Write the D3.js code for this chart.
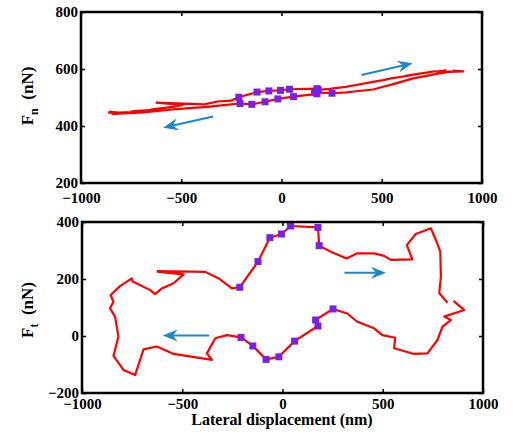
<!DOCTYPE html>
<html>
<head>
<meta charset="utf-8">
<script src="https://cdn.jsdelivr.net/npm/d3@7"></script>
<style>
  html, body { margin: 0; padding: 0; background: #fff; }
  svg { display: block; }
  text { font-family: "Liberation Serif", "Times New Roman", serif; font-weight: bold; }
</style>
</head>
<body>
<svg id="chart" width="514" height="441"></svg>
<script>
// lateral displacement (nm) along the path, null = gap in the trace
const dispX = [-627, -385, -318, -252, -213, -122, -63, -5, 40, 177, 183, 240, 320, 373, 457, 507, 540, 648, 620, 665,
  740, 765, 787, 790, 782, 823, null, 853, 907, 807, 840, 798, 773, 723, 657, 557, 562, 498, 457, 373,
  323, 252, 165, 177, 60, -18, -82, -148, -207, -277, -335, -377, -352, -543, -627, -693, -735, -793, -843, -818,
  -835, -860, -843, -857, -810, -752, -747, -660, -635, -602, -543, -493, -627];

// normal force Fn (nN)
const forceN = [482, 476, 486, 489, 501, 519, 523, 525, 529, 531, 527, 530, 537, 544, 555, 561, 566, 578, 576, 581,
  589, 592, 590, 594, 590, 596, null, 594, 592, 589, 591, 585, 583, 576, 567, 547, 548, 536, 528, 522,
  518, 515, 518, 513, 503, 495, 485, 476, 479, 474, 470, 467, 468, 458, 452, 448, 446, 444, 442, 444,
  446, 447, 449, 450, 447, 449, 451, 456, 459, 462, 467, 474, 482];

// tangential force Ft (nN)
const forceT = [228, 225, 202, 167, 171, 261, 345, 358, 386, 381, 317, 296, 272, 290, 290, 281, 267, 269, 319, 358,
  378, 337, 296, 208, 150, 117, null, 123, 91, 68, 56, 33, -14, -61, -63, -43, -6, 3, 27, 50,
  79, 95, 56, 35, -18, -73, -82, -35, -5, 3, -8, -61, -84, -63, -37, -47, -137, -119, -70, -2,
  68, 97, 120, 144, 175, 202, 191, 161, 147, 167, 185, 216, 226];

// highlighted samples (squares)
const markX  = [-213, -122, -63, -5, 40, 177, 183, 252, 165, 177, 60, -18, -82, -148, -207];
const markFn = [501, 519, 523, 525, 529, 531, 527, 515, 518, 513, 503, 495, 485, 476, 479];
const markFt = [171, 261, 345, 358, 386, 381, 317, 95, 56, 35, -18, -73, -82, -35, -5];

// direction arrows [x0, y0, x1, y1] in data units
const arrowsN = [[399, 579, 654, 620], [-341, 433, -590, 394]];
const arrowsT = [[309, 222, 516, 222], [-366, 2, -597, 2]];

const xTicks  = [-1000, -500, 0, 500, 1000];
const yTicksN = [200, 400, 600, 800];
const yTicksT = [-200, 0, 200, 400];

const RED = "#ff0000", PURPLE = "#7a1fe3", BLUE = "#1c87c9";

const svg = d3.select("#chart");

function drawPanel(opt) {
  const { left, right, top, bottom, yDomain, yTicks, yVals, markY, arrows, xPad } = opt;
  const x = d3.scaleLinear().domain([-1000, 1000]).range([left, right]);
  const y = d3.scaleLinear().domain(yDomain).range([bottom, top]);
  const g = svg.append("g");

  const pts = dispX.map((d, i) => ({ x: d, y: yVals[i] }));
  const line = d3.line()
    .defined(d => d.x !== null && d.y !== null)
    .x(d => x(d.x))
    .y(d => y(d.y));

  g.append("path")
    .datum(pts)
    .attr("d", line)
    .attr("fill", "none")
    .attr("stroke", RED)
    .attr("stroke-width", 2.2)
    .attr("stroke-linejoin", "round");

  // squares
  g.selectAll("rect.mk")
    .data(markX.map((d, i) => ({ x: d, y: markY[i] })))
    .enter()
    .append("rect")
    .attr("class", "mk")
    .attr("x", d => x(d.x) - 3.5)
    .attr("y", d => y(d.y) - 3.5)
    .attr("width", 7)
    .attr("height", 7)
    .attr("fill", PURPLE);

  // arrows
  arrows.forEach(a => {
    const x0 = x(a[0]), y0 = y(a[1]), x1 = x(a[2]), y1 = y(a[3]);
    const len = Math.hypot(x1 - x0, y1 - y0);
    const ux = (x1 - x0) / len, uy = (y1 - y0) / len;
    const px = -uy, py = ux;
    const L = 15, W = 6, N = 10;
    g.append("line")
      .attr("x1", x0).attr("y1", y0)
      .attr("x2", x1 - ux * N).attr("y2", y1 - uy * N)
      .attr("stroke", BLUE)
      .attr("stroke-width", 2);
    const head = [
      [x1, y1],
      [x1 - ux * L + px * W, y1 - uy * L + py * W],
      [x1 - ux * N, y1 - uy * N],
      [x1 - ux * L - px * W, y1 - uy * L - py * W]
    ];
    g.append("path")
      .attr("d", "M" + head.map(p => p.join(",")).join("L") + "Z")
      .attr("fill", BLUE);
  });

  // axes
  const fmt = d => d3.format("")(d).replace("-", "\u2212");
  const axB = g.append("g").attr("transform", `translate(0,${bottom})`)
    .call(d3.axisBottom(x).tickValues(xTicks).tickSize(-4).tickSizeOuter(0).tickPadding(xPad).tickFormat(fmt));
  const axT = g.append("g").attr("transform", `translate(0,${top})`)
    .call(d3.axisTop(x).tickValues(xTicks).tickSize(-4).tickSizeOuter(0).tickFormat(""));
  const axL = g.append("g").attr("transform", `translate(${left},0)`)
    .call(d3.axisLeft(y).tickValues(yTicks).tickSize(-4).tickSizeOuter(0).tickPadding(3).tickFormat(fmt));
  const axR = g.append("g").attr("transform", `translate(${right},0)`)
    .call(d3.axisRight(y).tickValues(yTicks).tickSize(-4).tickSizeOuter(0).tickFormat(""));

  [axB, axT, axL, axR].forEach(a => {
    a.select(".domain").remove();
    a.selectAll(".tick line").attr("stroke", "#000").attr("stroke-width", 1.5);
    a.selectAll("text")
      .attr("fill", "#000")
      .style("font-size", "15px")
      .style("font-family", '"Liberation Serif", serif')
      .style("font-weight", "bold");
  });

  g.append("rect")
    .attr("x", left).attr("y", top)
    .attr("width", right - left).attr("height", bottom - top)
    .attr("fill", "none")
    .attr("stroke", "#000")
    .attr("stroke-width", 2.5);

  return { x, y };
}

drawPanel({
  left: 81, right: 482, top: 12, bottom: 183,
  yDomain: [200, 800], yTicks: yTicksN, yVals: forceN, markY: markFn, arrows: arrowsN, xPad: 9
});

drawPanel({
  left: 82, right: 483, top: 222, bottom: 393,
  yDomain: [-200, 400], yTicks: yTicksT, yVals: forceT, markY: markFt, arrows: arrowsT, xPad: 5
});

// y labels
function yLabel(cx, cy, sub) {
  const t = svg.append("text")
    .attr("transform", `translate(${cx},${cy}) rotate(-90)`)
    .attr("text-anchor", "middle")
    .style("font-size", "17px");
  t.append("tspan").text("F");
  t.append("tspan").text(sub).style("font-size", "12px").attr("dy", 5);
  t.append("tspan").text("\u00a0 (nN)").attr("dy", -5);
}
yLabel(33, 96, "n");
yLabel(33, 310, "t");

svg.append("text")
  .attr("x", 282)
  .attr("y", 425)
  .attr("text-anchor", "middle")
  .style("font-size", "16px")
  .text("Lateral displacement (nm)");
</script>
</body>
</html>
